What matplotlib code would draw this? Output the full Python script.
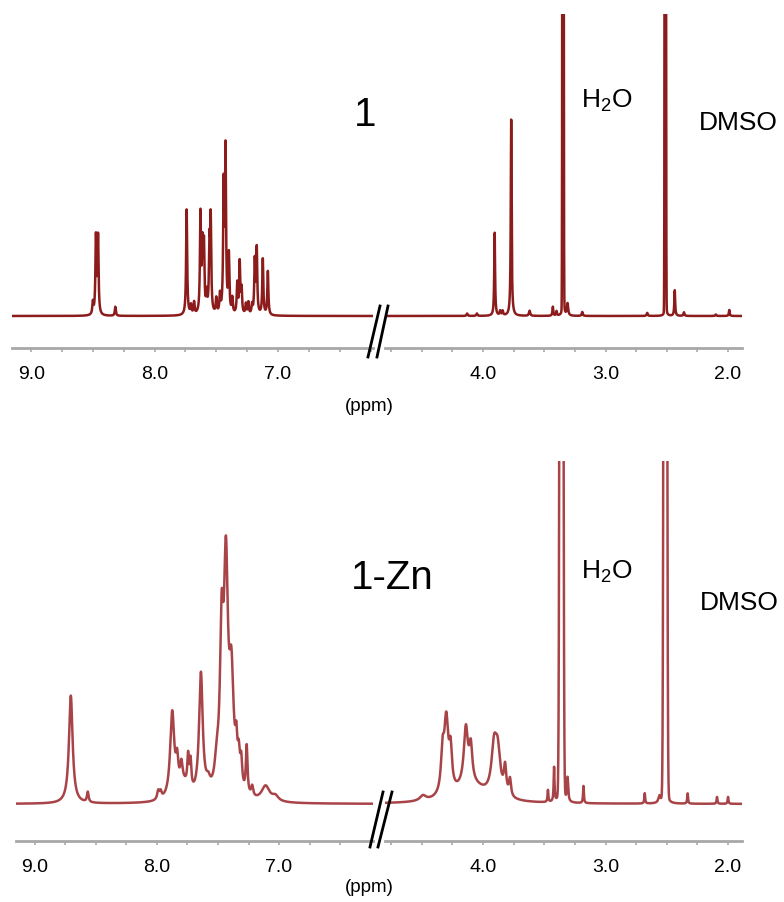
"""
1H NMR spectra of 1 and 1-Zn in DMSO-d6, with a broken ppm axis.
"""

import numpy as np
import matplotlib.pyplot as plt
from matplotlib.lines import Line2D
from matplotlib.ticker import MultipleLocator, FuncFormatter

plt.rcParams['font.family'] = ['Liberation Sans', 'DejaVu Sans']
plt.rcParams['mathtext.fontset'] = 'custom'
plt.rcParams['mathtext.rm'] = 'Liberation Sans'


### Peak lists (ppm, height, half-width at half-height)

# compound 1, aromatic region
ligand_aro_ppm = [8.500, 8.475, 8.458, 8.318, 7.740, 7.705, 7.680, 7.628, 7.612, 7.600,
                  7.578, 7.555, 7.545, 7.500, 7.470, 7.440, 7.425, 7.398, 7.370, 7.330,
                  7.310, 7.295, 7.260, 7.240, 7.210, 7.188, 7.172, 7.123, 7.082]
ligand_aro_height = [4.0, 25.5, 25.5, 3.0, 35.0, 3.0, 4.0, 32.5, 21.0, 21.5,
                     6.0, 21.5, 30.0, 5.0, 6.0, 41.0, 53.0, 19.0, 5.0, 10.0,
                     17.0, 8.0, 3.5, 4.0, 3.0, 17.5, 21.5, 18.5, 14.5]
ligand_aro_width = [0.005] * len(ligand_aro_ppm)

# compound 1, aliphatic region
ligand_ali_ppm = [4.13, 4.05, 3.905, 3.86, 3.84, 3.770, 3.62, 3.43, 3.40, 3.345,
                  3.31, 3.19, 2.66, 2.51, 2.435, 2.36, 2.10, 1.99]
ligand_ali_height = [0.8, 0.8, 27.5, 1.5, 1.5, 65.0, 1.7, 3.0, 1.5, 6.0,
                     4.0, 1.3, 1.0, 4.0, 8.5, 1.2, 0.5, 2.0]
ligand_ali_width = [0.005, 0.005, 0.004, 0.005, 0.005, 0.004, 0.006, 0.004, 0.004, 0.008,
                    0.006, 0.005, 0.005, 0.008, 0.004, 0.005, 0.005, 0.004]

# compound 1, residual solvent lines (off scale; Gaussian shape)
ligand_solvent_ppm = [3.347, 2.512]
ligand_solvent_height = [1000.0, 1000.0]
ligand_solvent_sigma = [0.0032, 0.0032]

# 1-Zn, aromatic region
zinc_aro_ppm = [8.706, 8.567, 7.990, 7.970, 7.875, 7.835, 7.800, 7.780, 7.745, 7.725,
                7.640, 7.580, 7.510, 7.470, 7.435, 7.390, 7.350, 7.330, 7.310, 7.265,
                7.220, 7.110, 7.030]
zinc_aro_height = [31.5, 3.0, 2.5, 2.0, 25.0, 8.0, 6.0, 4.0, 9.0, 8.0,
                   36.0, 3.0, 7.0, 42.0, 63.5, 32.0, 10.0, 8.0, 8.0, 14.0,
                   3.0, 4.5, 1.5]
zinc_aro_width = [0.018, 0.008, 0.010, 0.010, 0.020, 0.012, 0.012, 0.050, 0.008, 0.008,
                  0.018, 0.020, 0.020, 0.016, 0.020, 0.022, 0.010, 0.010, 0.010, 0.008,
                  0.010, 0.040, 0.030]

# 1-Zn, aliphatic region
zinc_ali_ppm = [4.49, 4.33, 4.30, 4.265, 4.14, 4.10, 4.10, 3.91, 3.88, 3.82, 3.78,
                3.47, 3.42, 3.36, 3.31, 3.18, 2.68, 2.56, 2.51, 2.33, 2.09, 2.00]
zinc_ali_height = [1.5, 11.0, 21.0, 11.0, 16.5, 10.0, 5.0, 13.0, 12.0, 8.0, 5.0,
                   3.5, 10.0, 8.0, 7.0, 5.0, 3.0, 2.0, 6.0, 3.0, 2.0, 2.0]
zinc_ali_width = [0.030, 0.015, 0.020, 0.014, 0.020, 0.015, 0.150, 0.025, 0.025, 0.012, 0.010,
                  0.004, 0.004, 0.015, 0.006, 0.004, 0.004, 0.010, 0.015, 0.004, 0.004, 0.004]

# 1-Zn, residual solvent lines
zinc_solvent_ppm = [3.360, 2.512]
zinc_solvent_height = [1000.0, 1000.0]
zinc_solvent_sigma = [0.0085, 0.0080]

# axis windows (ppm) either side of the break
left_window = (9.155, 6.23)
right_window = (4.80, 1.886)


def spectrum(ppm, centers, heights, widths):
    # sum of Lorentzian lines
    y = np.zeros_like(ppm)
    for c, h, w in zip(centers, heights, widths):
        y += h * w ** 2 / ((ppm - c) ** 2 + w ** 2)
    return y


def solvent(ppm, centers, heights, sigmas):
    # sum of Gaussian lines
    y = np.zeros_like(ppm)
    for c, h, s in zip(centers, heights, sigmas):
        y += h * np.exp(-(ppm - c) ** 2 / (2 * s ** 2))
    return y


ppm_left = np.linspace(left_window[0], left_window[1], 12000)
ppm_right = np.linspace(right_window[0], right_window[1], 12000)


### Figure layout in pixels
W, H = 784, 903
fig = plt.figure(figsize=(W / 100, H / 100), dpi=100)


def px_axes(x0, x1, y_top, y_bottom):
    return fig.add_axes([x0 / W, 1 - y_bottom / H, (x1 - x0) / W, (y_bottom - y_top) / H])


def style(ax, window, ylim):
    ax.set_xlim(window)
    ax.set_ylim(ylim)
    for side in ['left', 'right', 'top']:
        ax.spines[side].set_visible(False)
    ax.spines['bottom'].set_color('#a8a8a8')
    ax.spines['bottom'].set_linewidth(2)
    ax.set_yticks([])
    ax.xaxis.set_major_locator(MultipleLocator(0.25))
    ax.xaxis.set_major_formatter(FuncFormatter(
        lambda v, pos: f'{v:.1f}' if abs(v - round(v)) < 1e-6 else ''))
    ax.tick_params(axis='x', direction='out', length=3, width=1.2, color='#a8a8a8',
                   pad=9, labelsize=14)
    ax.patch.set_alpha(0)


panels = [
    # (y_top, y_bottom, left x0, ylim, colour, aromatic, aliphatic, solvent)
    (15, 349, 12, (-10.6, 100), '#8c1c1c',
     (ligand_aro_ppm, ligand_aro_height, ligand_aro_width),
     (ligand_ali_ppm, ligand_ali_height, ligand_ali_width),
     (ligand_solvent_ppm, ligand_solvent_height, ligand_solvent_sigma)),
    (462, 842, 16, (-10.8, 100), '#a84448',
     (zinc_aro_ppm, zinc_aro_height, zinc_aro_width),
     (zinc_ali_ppm, zinc_ali_height, zinc_ali_width),
     (zinc_solvent_ppm, zinc_solvent_height, zinc_solvent_sigma)),
]

for y_top, y_bottom, x0, ylim, color, aro, ali, solv in panels:
    ax_l = px_axes(x0, 373, y_top, y_bottom)
    ax_r = px_axes(385, 742, y_top, y_bottom)
    ax_l.plot(ppm_left, spectrum(ppm_left, *aro), c=color, lw=1.8)
    ax_r.plot(ppm_right, spectrum(ppm_right, *ali) + solvent(ppm_right, *solv),
              c=color, lw=1.8)
    style(ax_l, left_window, ylim)
    style(ax_r, right_window, ylim)


### Break marks
for (xa, ya, xb, yb) in [(380, 307, 368, 358), (388, 307, 377, 358),
                         (383, 793, 370, 848), (392, 793, 378, 848)]:
    fig.add_artist(Line2D([xa / W, xb / W], [1 - ya / H, 1 - yb / H],
                          color='k', lw=2, transform=fig.transFigure))


### Labels
def label(x, y, s, size):
    fig.text(x / W, 1 - y / H, s, fontsize=size, ha='center', va='center')


label(369, 407, '(ppm)', 13.5)
label(369, 888, '(ppm)', 13.5)
label(365, 115, '1', 29)
label(392, 578, '1-Zn', 29)
label(607, 101, r'H$_\mathrm{2}$O', 19)
label(738, 123, 'DMSO', 19)
label(607, 572, r'H$_\mathrm{2}$O', 19)
label(739, 603, 'DMSO', 19)

fig.savefig('out.png', dpi=100)
